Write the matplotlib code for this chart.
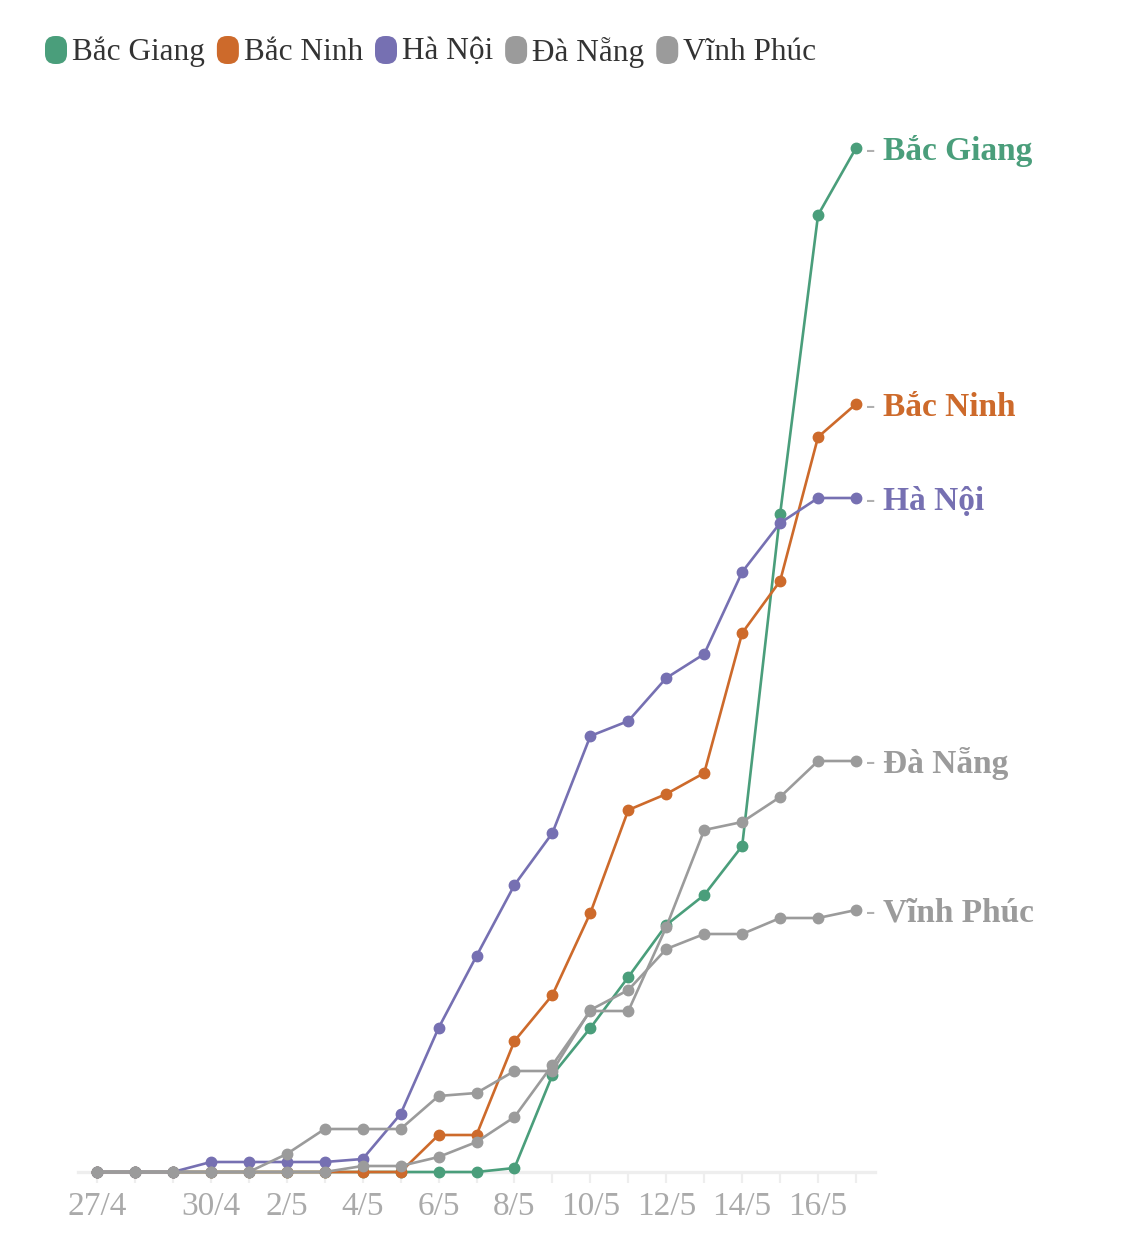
import numpy as np
import matplotlib.pyplot as plt
from matplotlib.patches import FancyBboxPatch

# days shown on the x axis
dates = ["27/4", "28/4", "29/4", "30/4", "1/5", "2/5", "3/5", "4/5", "5/5", "6/5",
         "7/5", "8/5", "9/5", "10/5", "11/5", "12/5", "13/5", "14/5", "15/5", "16/5", "17/5"]
labelled_dates = ["27/4", "30/4", "2/5", "4/5", "6/5", "8/5", "10/5", "12/5", "14/5", "16/5"]

# cumulative cases per province
bac_giang = [0, 0, 0, 0, 0, 0, 0, 0, 0, 0, 0, 4, 97, 144, 195, 247, 277, 326, 658, 957, 1024]
bac_ninh = [0, 0, 0, 0, 0, 0, 0, 0, 0, 37, 37, 131, 177, 259, 362, 378, 399, 539, 591, 735, 768]
ha_noi = [0, 0, 0, 10, 10, 10, 10, 13, 58, 144, 216, 287, 339, 436, 451, 494, 518, 600, 649, 674, 674]
da_nang = [0, 0, 0, 0, 0, 0, 0, 6, 6, 15, 30, 55, 107, 161, 161, 245, 342, 350, 375, 411, 411]
vinh_phuc = [0, 0, 0, 0, 0, 18, 43, 43, 43, 76, 79, 101, 101, 162, 182, 223, 238, 238, 254, 254, 262]

names = ["Bắc Giang", "Bắc Ninh", "Hà Nội", "Đà Nẵng", "Vĩnh Phúc"]
series = [bac_giang, bac_ninh, ha_noi, da_nang, vinh_phuc]
colors = ["#4a9e7b", "#cd6a2b", "#7670b2", "#9b9b9b", "#9b9b9b"]

FONT = ["Liberation Serif", "DejaVu Serif"]
W, H = 1125, 1251

fig = plt.figure(figsize=(W / 100, H / 100), dpi=100)
fig.patch.set_facecolor("white")

# axes placed in pixel terms
left, right, bottom, top = 78, 875, 1172, 72
ax = fig.add_axes([left / W, 1 - bottom / H, (right - left) / W, (bottom - top) / H])

x = np.arange(len(dates))
for vals, name, col in zip(series, names, colors):
    ax.plot(x, vals, color=col, lw=1.9, marker="o", ms=7.5, mec=col, mfc=col,
            solid_joinstyle="round", clip_on=False)
    # label at the end of each line
    ax.annotate("-", (x[-1], vals[-1]), xytext=(10, -2), textcoords="offset pixels",
                ha="left", va="center", color="#b0b0b0", fontsize=20, family=FONT)
    ax.annotate(name, (x[-1], vals[-1]), xytext=(27, -3), textcoords="offset pixels",
                ha="left", va="center", color=col, fontsize=24, fontweight="bold", family=FONT)

ax.set_xlim(-0.5, len(dates) - 0.5)
ax.set_ylim(0, 1100)
ax.set_xticks(x)
ax.set_xticklabels([d if d in labelled_dates else "" for d in dates])
ax.set_yticks([])
for s in ["top", "right", "left"]:
    ax.spines[s].set_visible(False)
ax.spines["bottom"].set_color("#eeeeee")
ax.spines["bottom"].set_linewidth(2.4)
ax.spines["bottom"].set_zorder(0)
ax.tick_params(axis="x", length=8, width=1.6, color="#eeeeee", pad=6,
               labelsize=24, labelcolor="#aaaaaa")
for lab in ax.get_xticklabels():
    lab.set_family(FONT)

# legend across the top: rounded swatch + name
renderer = fig.canvas.get_renderer()
cx = 45
ly = 50
for name, col in zip(names, colors):
    sw, sh = 22, 28
    pill = FancyBboxPatch((cx / W, 1 - (ly + sh / 2) / H), sw / W, sh / H,
                          boxstyle="round,pad=0,rounding_size=0.009",
                          transform=fig.transFigure, fc=col, ec="none",
                          mutation_aspect=W / H)
    fig.patches.append(pill)
    t = fig.text((cx + sw + 5) / W, 1 - (ly + 2) / H, name, ha="left", va="center",
                 fontsize=22.5, color="#333333", family=FONT)
    bb = t.get_window_extent(renderer)
    cx = cx + sw + 5 + bb.width + 12

fig.savefig("out.png", dpi=100, facecolor="white")
